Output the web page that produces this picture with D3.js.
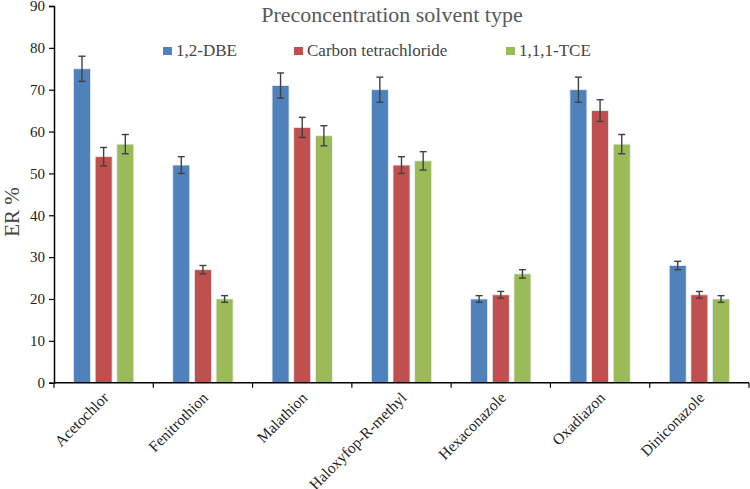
<!DOCTYPE html>
<html>
<head>
<meta charset="utf-8">
<script src="https://cdn.jsdelivr.net/npm/d3@7"></script>
<style>
 body { margin:0; background:#fff; }
 text { font-family: "Liberation Serif", "Times New Roman", serif; }
</style>
</head>
<body>
<div id="chart"></div>
<script>
 // data
 var categories = ["Acetochlor","Fenitrothion","Malathion","Haloxyfop-R-methyl","Hexaconazole","Oxadiazon","Diniconazole"];
 var seriesNames = ["1,2-DBE","Carbon tetrachloride","1,1,1-TCE"];
 var dbe = [75,52,71,70,20,70,28];
 var ctc = [54,27,61,52,21,65,21];
 var tce = [57,20,59,53,26,57,20];
 var dbeErr = [3,2,3,3,0.8,3,1];
 var ctcErr = [2.2,1,2.4,2,0.8,2.6,0.8];
 var tceErr = [2.3,0.8,2.4,2.2,1,2.3,0.8];
 var yTicks = [0,10,20,30,40,50,60,70,80,90];

 var colors = ["#4F81BD","#C0504D","#9BBB59"];
 var values = [dbe, ctc, tce];
 var errors = [dbeErr, ctcErr, tceErr];
 var serif = "Liberation Serif";

 var W = 750, H = 489;
 var x0 = 54, x1 = 749, yBottom = 382.7, yTop = 6;

 var svg = d3.select("#chart").append("svg")
     .attr("width", W)
     .attr("height", H);

 var x = d3.scaleBand().domain(categories).range([x0, x1]).padding(0);
 var xs = d3.scaleBand().domain(seriesNames).range([0, x.bandwidth()])
     .paddingInner(0.217).paddingOuter(0.9);
 var y = d3.scaleLinear().domain([0, 90]).range([yBottom, yTop]);

 // flatten into rows for drawing
 var rows = [];
 categories.forEach(function(c, i) {
     seriesNames.forEach(function(s, j) {
	 rows.push({cat:c, ser:s, j:j, v:values[j][i], e:errors[j][i]});
     });
 });

 var bars = svg.append("g").attr("id","bars");
 bars.selectAll("rect")
     .data(rows)
     .enter()
     .append("rect")
     .attr("x", function(d) { return x(d.cat) + xs(d.ser); })
     .attr("y", function(d) { return y(d.v); })
     .attr("width", xs.bandwidth())
     .attr("height", function(d) { return y(0) - y(d.v); })
     .attr("fill", function(d) { return colors[d.j]; })
     .attr("stroke", "#e8eef6")
     .attr("stroke-width", 0.8);

 // error bars
 var eb = svg.append("g").attr("id","errors")
     .attr("stroke","#404040").attr("stroke-width",1.4).attr("fill","none");
 var capW = 3.5;
 rows.forEach(function(d) {
     var cx = x(d.cat) + xs(d.ser) + xs.bandwidth()/2;
     var top = y(d.v + d.e), bot = y(d.v - d.e);
     eb.append("line").attr("x1",cx).attr("x2",cx).attr("y1",top).attr("y2",bot);
     eb.append("line").attr("x1",cx-capW).attr("x2",cx+capW).attr("y1",top).attr("y2",top);
     eb.append("line").attr("x1",cx-capW).attr("x2",cx+capW).attr("y1",bot).attr("y2",bot);
 });

 // y axis
 var yAxis = svg.append("g")
     .attr("transform","translate(" + x0 + ",0)")
     .call(d3.axisLeft(y).tickValues(yTicks).tickSize(5).tickPadding(4).tickFormat(d3.format("d")));
 yAxis.select(".domain").attr("stroke","#000").attr("stroke-width",1.5);
 yAxis.selectAll(".tick line").attr("stroke","#000").attr("stroke-width",1.2);
 yAxis.selectAll("text")
     .attr("font-family",serif)
     .attr("font-size",15)
     .attr("fill","#222");

 // x axis
 var xAxis = svg.append("g")
     .attr("transform","translate(0," + yBottom + ")");
 xAxis.append("line")
     .attr("x1", x0).attr("x2", x1).attr("y1",0).attr("y2",0)
     .attr("stroke","#000").attr("stroke-width",1.5);
 var bounds = categories.map(function(c) { return x(c); }).concat([x1]);
 xAxis.selectAll("line.tk")
     .data(bounds)
     .enter()
     .append("line")
     .attr("class","tk")
     .attr("x1", function(d) { return d; })
     .attr("x2", function(d) { return d; })
     .attr("y1", 0).attr("y2", 5)
     .attr("stroke","#000").attr("stroke-width",1.2);
 xAxis.selectAll("text")
     .data(categories)
     .enter()
     .append("text")
     .attr("transform", function(d) {
	 return "translate(" + (x(d) + x.bandwidth()/2 + 6) + ",16) rotate(-45)";
     })
     .attr("text-anchor","end")
     .attr("font-family",serif)
     .attr("font-size",15.5)
     .attr("fill","#222")
     .text(function(d) { return d; });

 // y label
 svg.append("text")
     .attr("transform","translate(19,212) rotate(-90)")
     .attr("text-anchor","middle")
     .attr("font-family",serif)
     .attr("font-size",21)
     .attr("fill","#444")
     .text("ER %");

 // title
 svg.append("text")
     .attr("x", 392).attr("y", 22)
     .attr("text-anchor","middle")
     .attr("font-family",serif)
     .attr("font-size",22)
     .attr("fill","#595959")
     .text("Preconcentration solvent type");

 // legend
 var legX = [163, 294, 506];
 var leg = svg.append("g").attr("id","legend");
 var items = leg.selectAll("g.item")
     .data(seriesNames)
     .enter()
     .append("g")
     .attr("class","item")
     .attr("transform", function(d,i) { return "translate(" + legX[i] + ",47)"; });
 items.append("rect")
     .attr("width",9).attr("height",8)
     .attr("fill", function(d,i) { return colors[i]; });
 items.append("text")
     .attr("x",13).attr("y",9)
     .attr("font-family",serif)
     .attr("font-size",17)
     .attr("fill","#444")
     .text(function(d) { return d; });
</script>
</body>
</html>
